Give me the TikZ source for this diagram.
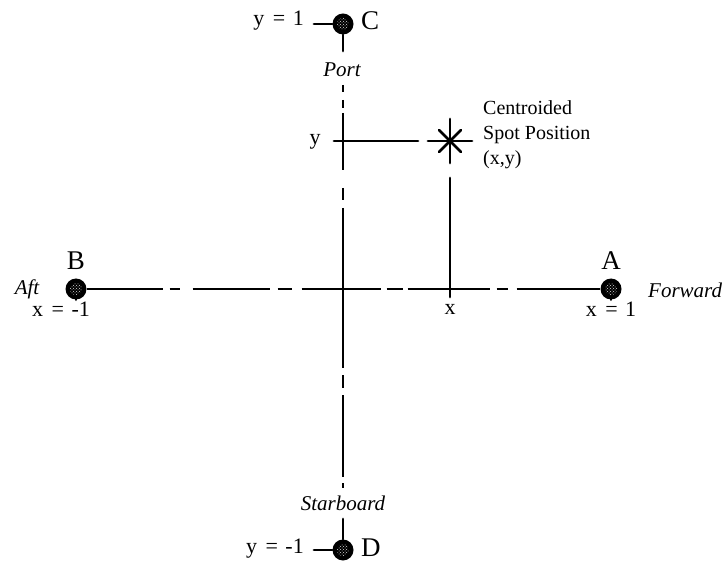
\documentclass[tikz,border=0pt]{standalone}
\usepackage{fontspec}
\setmainfont{Liberation Serif}
\usetikzlibrary{patterns}
\begin{document}
\begin{tikzpicture}[x=1pt,y=-1pt,
  ln/.style={line width=2.8pt,line cap=round},
  hdash/.style={line width=2.8pt,dash pattern=on 76pt off 7pt on 10pt off 13pt on 77pt off 8pt on 14pt off 10pt on 79pt off 6pt on 16pt off 5pt on 82pt off 7pt on 11pt off 9pt on 120pt off 1pt},
  vdash/.style={line width=2.8pt,dash pattern=on 7pt off 8pt on 8pt off 5pt on 57pt off 18pt on 12pt off 8pt on 160pt off 7pt on 13pt off 7pt on 82pt off 6pt on 5pt off 40pt},
  pt/.style={circle,fill=black,minimum size=21pt,inner sep=0pt,
    path picture={\fill[pattern=crosshatch dots,pattern color=white!85!black] (path picture bounding box.center) circle (6pt);}},
  txt/.style={font=\fontsize{22}{24}\selectfont,inner sep=1pt},
  itxt/.style={font=\fontsize{21}{24}\selectfont\itshape,inner sep=1pt},
  big/.style={font=\fontsize{27}{30}\selectfont,inner sep=1pt}]
\useasboundingbox (0,0) rectangle (728,569);
% points
\node[pt] (C) at (343,24) {};
\node[pt] (D) at (343,550) {};
\node[pt] (B) at (76,289) {};
\node[pt] (A) at (611,289) {};
% letters
\node[big,anchor=west] (Cl) at (360,21) {C};
\node[big,anchor=west] (Dl) at (360,548) {D};
\node[big] (Bl) at (76,261) {B};
\node[big] (Al) at (611,261) {A};
% value labels
\node[txt,anchor=east] (yC) at (305,21) {y\hspace{3pt} = \hspace{2pt}1};
\node[txt,anchor=east] (yD) at (305,549) {y\hspace{3pt} = \hspace{2pt}-1};
\node[txt] (xB) at (61,309) {x\hspace{3pt} = \hspace{2pt}-1};
\node[txt] (xA) at (611,309) {x\hspace{3pt} = \hspace{2pt}1};
% direction labels
\node[itxt] (Port) at (342,70) {Port};
\node[itxt] (Stb) at (343,503) {Starboard};
\node[itxt] (Aft) at (27,289) {Aft};
\node[itxt,anchor=west] (Fwd) at (647,290) {Forward};
% stubs
\coordinate (cst) at (314,24);
\coordinate (dst) at (314,550);
\draw[ln] (cst) -- (C);
\draw[ln] (dst) -- (D);
\coordinate (cdn) at (343,51);
\coordinate (dup) at (343,519);
\draw[ln] (C) -- (cdn);
\draw[ln] (dup) -- (D);
\coordinate (bdn) at (76,299);
\coordinate (adn) at (611,299);
\draw[ln] (B) -- (bdn);
\draw[ln] (A) -- (adn);
% axes
\draw[hdash] (B.east) -- (A.west);
\coordinate (ptop) at (343,85);
\coordinate (pbot) at (343,490);
\draw[vdash] (ptop) -- (pbot);
% spot
\node[inner sep=0pt,minimum size=2pt] (spot) at (450,141) {};
\draw[ln] (spot.center) ++(-22,0) -- ++(44,0);
\draw[ln] (spot.center) ++(0,-22) -- ++(0,44);
\draw[ln] (spot.center) ++(-11,-11) -- ++(22,22);
\draw[ln] (spot.center) ++(-11,11) -- ++(22,-22);
\node[txt] (ylbl) at (315,142) {y};
\node[txt] (xlbl) at (450,309) {x};
\coordinate (yend) at (418,141);
\coordinate (ystart) at (334,141);
\draw[ln] (ystart) -- (yend);
\coordinate (xtop) at (450,178);
\coordinate (xbot) at (450,297);
\draw[ln] (xtop) -- (xbot);
\node[anchor=west,align=left,inner sep=1pt,font=\fontsize{20}{25}\selectfont] (spotlbl) at (482,135) {Centroided\\Spot Position\\(x,y)};
\end{tikzpicture}
\end{document}
